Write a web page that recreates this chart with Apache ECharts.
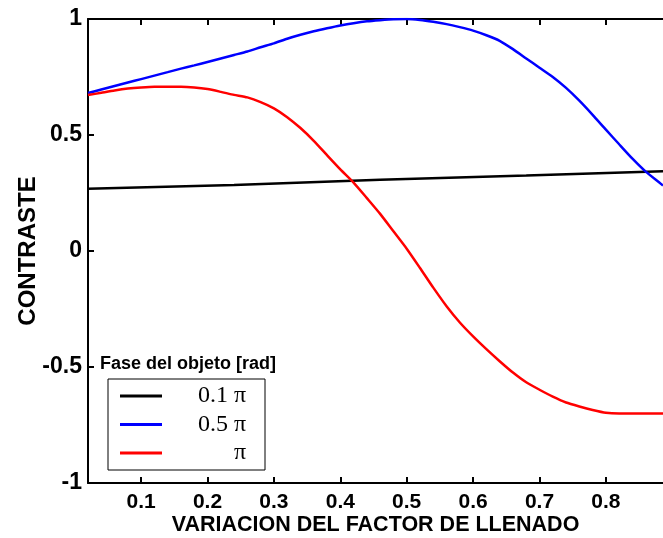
<!DOCTYPE html>
<html>
<head>
<meta charset="utf-8">
<script src="https://cdn.jsdelivr.net/npm/echarts@6/dist/echarts.min.js"></script>
<style>
html,body{margin:0;padding:0;background:#fff;}
#chart{width:663px;height:538px;}
</style>
</head>
<body>
<div id="chart"></div>
<script>
// x positions (factor de llenado)
var xFill = [0.02,0.04,0.06,0.08,0.10,0.12,0.14,0.16,0.18,0.20,0.22,0.24,0.26,0.28,0.30,0.32,0.34,0.36,0.38,0.40,0.42,0.44,0.46,0.48,0.50,0.52,0.54,0.56,0.58,0.60,0.62,0.64,0.66,0.68,0.70,0.72,0.74,0.76,0.78,0.80,0.82,0.84,0.86,0.88,0.886];
// 0.5 pi
var blueVals = [0.681,0.696,0.711,0.726,0.741,0.756,0.771,0.786,0.800,0.815,0.830,0.845,0.860,0.878,0.895,0.915,0.932,0.947,0.960,0.972,0.982,0.990,0.995,0.999,1.000,0.996,0.988,0.978,0.965,0.950,0.930,0.906,0.870,0.830,0.790,0.750,0.703,0.648,0.587,0.523,0.460,0.398,0.342,0.296,0.282];
// pi
var redVals = [0.672,0.682,0.692,0.700,0.705,0.708,0.708,0.708,0.705,0.698,0.686,0.673,0.662,0.642,0.615,0.577,0.530,0.475,0.413,0.352,0.295,0.228,0.160,0.085,0.010,-0.073,-0.158,-0.238,-0.308,-0.368,-0.423,-0.475,-0.524,-0.566,-0.598,-0.628,-0.653,-0.670,-0.685,-0.697,-0.700,-0.700,-0.700,-0.700,-0.700];
// 0.1 pi
var xBlack = [0.02,0.24,0.46,0.68,0.886];
var blackVals = [0.268,0.285,0.307,0.325,0.344];

var seriesNames = ['0.1 \u03c0','0.5 \u03c0','\u03c0'];
var xTicks = [0.1,0.2,0.3,0.4,0.5,0.6,0.7,0.8];
var yTicks = [-1,-0.5,0,0.5,1];
var xTitle = 'VARIACION DEL FACTOR DE LLENADO';
var yTitle = 'CONTRASTE';
var legendTitle = 'Fase del objeto [rad]';

function pairs(xs, ys){ return xs.map(function(x,i){ return [x, ys[i]]; }); }

var chart = echarts.init(document.getElementById('chart'));
var sans = '"Liberation Sans", Arial, sans-serif';
var serif = '"Liberation Serif", "Times New Roman", serif';
var axisCommon = {
  type:'value', min:0.02, max:0.886,
  axisLine:{show:true, onZero:false, lineStyle:{color:'#000', width:2}},
  splitLine:{show:false}
};
chart.setOption({
  animation:false,
  backgroundColor:'#fff',
  grid:{left:88, right:0, top:19, bottom:55, outerBoundsMode:'none', containLabel:false},
  xAxis:[
    Object.assign({}, axisCommon, {
      position:'bottom',
      name:xTitle, nameLocation:'middle', nameGap:31, nameMoveOverlap:false,
      nameTextStyle:{fontFamily:sans, fontWeight:'bold', fontSize:21.5, color:'#000'},
      axisTick:{show:true, inside:true, length:6, lineStyle:{color:'#000', width:2}, customValues:xTicks},
      axisLabel:{show:true, margin:9, fontFamily:sans, fontWeight:'bold', fontSize:21, color:'#000', customValues:xTicks,
        formatter:function(v){ return v.toFixed(1); }}
    }),
    Object.assign({}, axisCommon, {
      position:'top',
      axisTick:{show:true, inside:true, length:6, lineStyle:{color:'#000', width:2}, customValues:xTicks},
      axisLabel:{show:false}
    })
  ],
  yAxis:{
    type:'value', min:-1, max:1, interval:0.5,
    axisLine:{show:true, onZero:false, lineStyle:{color:'#000', width:2}},
    axisTick:{show:true, inside:true, length:6, lineStyle:{color:'#000', width:2}},
    splitLine:{show:false},
    axisLabel:{margin:6, fontFamily:sans, fontWeight:'bold', fontSize:23, color:'#000',
      formatter:function(v){ return String(v); }},
    name:yTitle, nameLocation:'middle', nameGap:48, nameMoveOverlap:false,
    nameTextStyle:{fontFamily:sans, fontWeight:'bold', fontSize:24, color:'#000'}
  },
  legend:{
    orient:'vertical', left:108, top:379,
    data:seriesNames,
    icon:'rect', itemWidth:42, itemHeight:3, itemGap:4.5,
    padding:[5,19,5,12],
    borderColor:'#000', borderWidth:1, backgroundColor:'#fff',
    formatter:function(n){ return '{t|' + n + '}'; },
    textStyle:{fontFamily:serif, fontSize:24, lineHeight:24,
      rich:{t:{width:79, align:'right', fontFamily:serif, fontSize:24, lineHeight:24, color:'#000'}}}
  },
  graphic:[{
    type:'text', left:100, top:355,
    style:{text:legendTitle, fontFamily:sans, fontWeight:'bold', fontSize:18, fill:'#000'}
  }],
  series:[
    {name:seriesNames[0], type:'line', xAxisIndex:0, data:pairs(xBlack, blackVals), showSymbol:false, symbol:'none', lineStyle:{color:'#000', width:2.5}, itemStyle:{color:'#000'}},
    {name:seriesNames[1], type:'line', xAxisIndex:0, data:pairs(xFill, blueVals), smooth:0.2, showSymbol:false, symbol:'none', lineStyle:{color:'#0000ff', width:2.5}, itemStyle:{color:'#0000ff'}},
    {name:seriesNames[2], type:'line', xAxisIndex:0, data:pairs(xFill, redVals), smooth:0.2, showSymbol:false, symbol:'none', lineStyle:{color:'#ff0000', width:2.5}, itemStyle:{color:'#ff0000'}}
  ]
});
</script>
</body>
</html>
